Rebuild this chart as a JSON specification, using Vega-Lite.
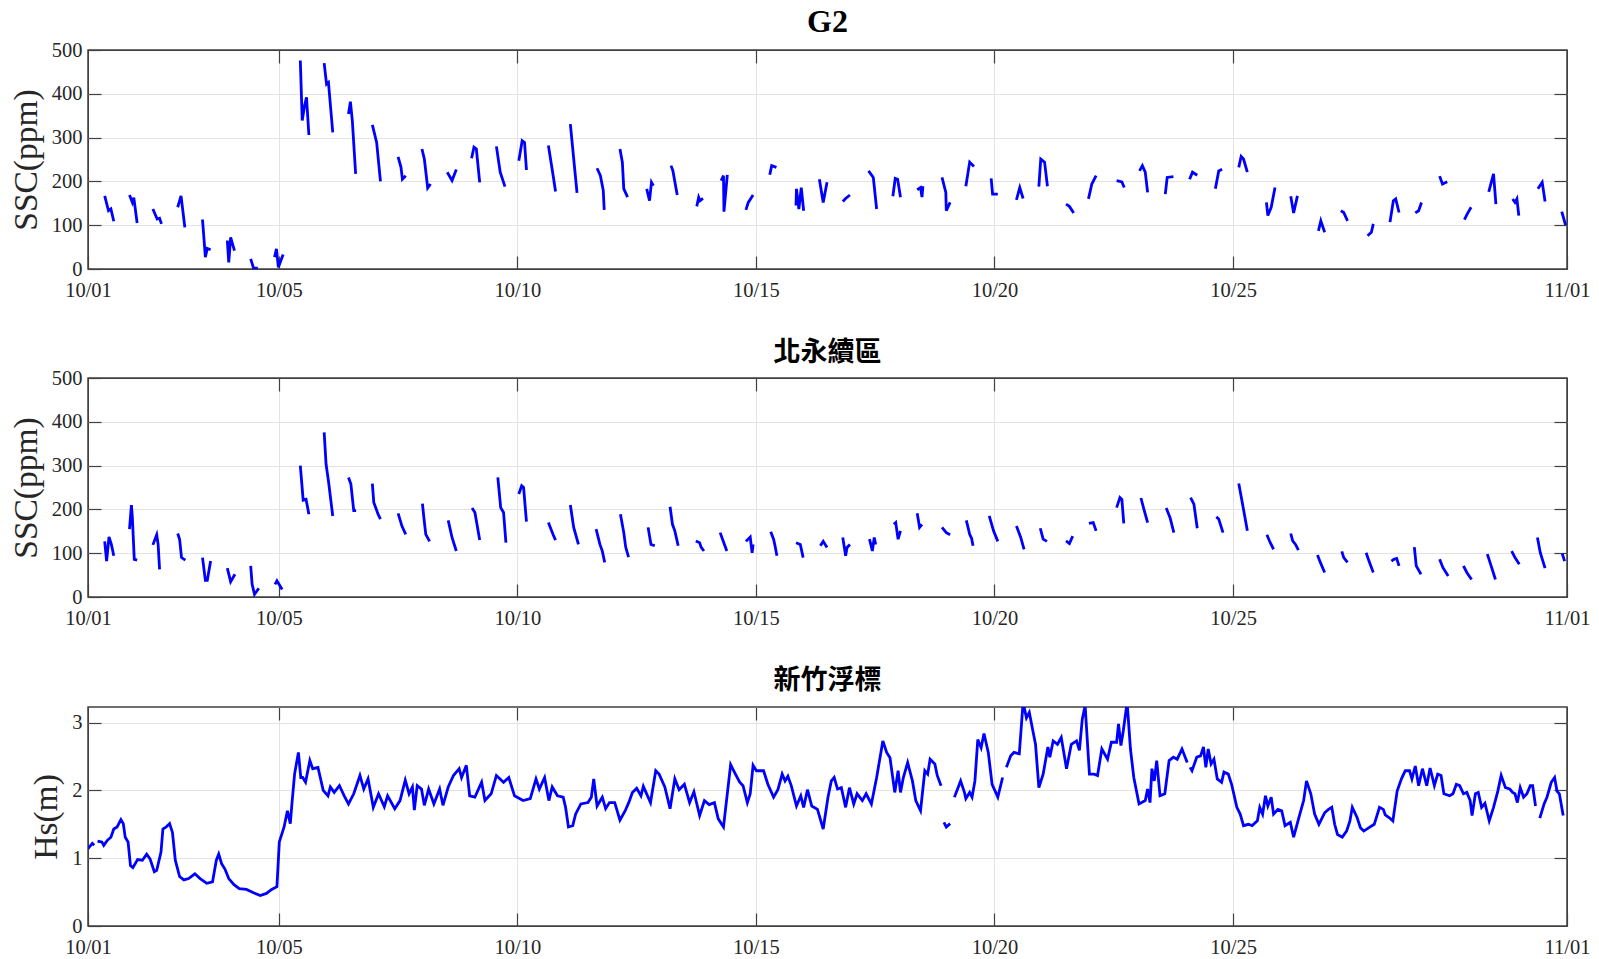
{
"$schema": "https://vega.github.io/schema/vega-lite/v6.json",
"background": "white",
"padding": {"left": 8, "top": 5, "right": 5, "bottom": 5},
"spacing": 36,
"config": {
  "view": {"stroke": "#404040", "strokeWidth": 1.5},
  "font": "Liberation Serif",
  "axis": {"labelFont": "Liberation Serif", "labelFontSize": 20.5, "labelColor": "#262626", "titleFont": "Liberation Serif", "titleFontWeight": "normal", "titleColor": "#262626", "titleFontSize": 33.5, "gridWidth": 1, "domain": false, "ticks": false, "labelPadding": 19, "titlePadding": 8},
  "axisX": {"labelPadding": 24},
  "title": {"font": "Liberation Serif", "fontSize": 32, "fontWeight": "bold", "color": "#000000", "anchor": "middle", "offset": 1}
},
"datasets": {
"g2": [
{"seg":1,"day":0.35,"ssc":167},{"seg":1,"day":0.43,"ssc":133},{"seg":1,"day":0.48,"ssc":137},{"seg":1,"day":0.54,"ssc":109},
{"seg":2,"day":0.87,"ssc":169},{"seg":2,"day":0.93,"ssc":152},{"seg":2,"day":0.96,"ssc":163},{"seg":2,"day":1.03,"ssc":105},
{"seg":3,"day":1.36,"ssc":137},{"seg":3,"day":1.45,"ssc":114},{"seg":3,"day":1.50,"ssc":116},{"seg":3,"day":1.54,"ssc":103},
{"seg":4,"day":1.88,"ssc":141},{"seg":4,"day":1.95,"ssc":167},{"seg":4,"day":2.03,"ssc":95},
{"seg":5,"day":2.40,"ssc":113},{"seg":5,"day":2.46,"ssc":27},{"seg":5,"day":2.50,"ssc":47},{"seg":5,"day":2.57,"ssc":44},
{"seg":6,"day":2.92,"ssc":65},{"seg":6,"day":2.95,"ssc":15},{"seg":6,"day":2.99,"ssc":72},{"seg":6,"day":3.07,"ssc":42},
{"seg":7,"day":3.41,"ssc":23},{"seg":7,"day":3.47,"ssc":2},{"seg":7,"day":3.56,"ssc":2},
{"seg":8,"day":3.91,"ssc":27},{"seg":8,"day":3.95,"ssc":46},{"seg":8,"day":3.99,"ssc":4},{"seg":8,"day":4.09,"ssc":33},
{"seg":9,"day":4.45,"ssc":476},{"seg":9,"day":4.49,"ssc":339},{"seg":9,"day":4.54,"ssc":373},{"seg":9,"day":4.58,"ssc":392},{"seg":9,"day":4.63,"ssc":306},
{"seg":10,"day":4.95,"ssc":470},{"seg":10,"day":5.00,"ssc":422},{"seg":10,"day":5.04,"ssc":426},{"seg":10,"day":5.13,"ssc":312},
{"seg":11,"day":5.46,"ssc":354},{"seg":11,"day":5.50,"ssc":382},{"seg":11,"day":5.54,"ssc":339},{"seg":11,"day":5.61,"ssc":217},
{"seg":12,"day":5.96,"ssc":329},{"seg":12,"day":6.05,"ssc":289},{"seg":12,"day":6.13,"ssc":200},
{"seg":13,"day":6.50,"ssc":256},{"seg":13,"day":6.56,"ssc":232},{"seg":13,"day":6.59,"ssc":205},{"seg":13,"day":6.66,"ssc":213},
{"seg":14,"day":7.00,"ssc":274},{"seg":14,"day":7.05,"ssc":251},{"seg":14,"day":7.12,"ssc":185},{"seg":14,"day":7.18,"ssc":194},
{"seg":15,"day":7.53,"ssc":221},{"seg":15,"day":7.63,"ssc":202},{"seg":15,"day":7.72,"ssc":227},
{"seg":16,"day":8.04,"ssc":253},{"seg":16,"day":8.09,"ssc":278},{"seg":16,"day":8.14,"ssc":274},{"seg":16,"day":8.21,"ssc":198},
{"seg":17,"day":8.56,"ssc":280},{"seg":17,"day":8.64,"ssc":221},{"seg":17,"day":8.74,"ssc":188},
{"seg":18,"day":9.03,"ssc":247},{"seg":18,"day":9.10,"ssc":293},{"seg":18,"day":9.15,"ssc":289},{"seg":18,"day":9.19,"ssc":226},
{"seg":19,"day":9.65,"ssc":282},{"seg":19,"day":9.75,"ssc":213},{"seg":19,"day":9.80,"ssc":177},
{"seg":20,"day":10.11,"ssc":331},{"seg":20,"day":10.25,"ssc":174},
{"seg":21,"day":10.67,"ssc":230},{"seg":21,"day":10.74,"ssc":213},{"seg":21,"day":10.80,"ssc":179},{"seg":21,"day":10.82,"ssc":135},
{"seg":22,"day":11.15,"ssc":274},{"seg":22,"day":11.20,"ssc":244},{"seg":22,"day":11.23,"ssc":183},{"seg":22,"day":11.31,"ssc":164},
{"seg":23,"day":11.71,"ssc":183},{"seg":23,"day":11.77,"ssc":156},{"seg":23,"day":11.81,"ssc":198},{"seg":23,"day":11.85,"ssc":190},
{"seg":24,"day":12.22,"ssc":236},{"seg":24,"day":12.26,"ssc":224},{"seg":24,"day":12.35,"ssc":169},
{"seg":25,"day":12.76,"ssc":143},{"seg":25,"day":12.80,"ssc":164},{"seg":25,"day":12.83,"ssc":156},{"seg":25,"day":12.89,"ssc":161},
{"seg":26,"day":13.27,"ssc":202},{"seg":26,"day":13.32,"ssc":213},{"seg":26,"day":13.33,"ssc":131},{"seg":26,"day":13.40,"ssc":215},
{"seg":27,"day":13.79,"ssc":135},{"seg":27,"day":13.84,"ssc":152},{"seg":27,"day":13.94,"ssc":169},
{"seg":28,"day":14.29,"ssc":215},{"seg":28,"day":14.33,"ssc":236},{"seg":28,"day":14.43,"ssc":232},
{"seg":29,"day":14.84,"ssc":145},{"seg":29,"day":14.85,"ssc":183},{"seg":29,"day":14.90,"ssc":137},{"seg":29,"day":14.95,"ssc":186},{"seg":29,"day":15.00,"ssc":133},
{"seg":30,"day":15.33,"ssc":205},{"seg":30,"day":15.41,"ssc":152},{"seg":30,"day":15.49,"ssc":198},
{"seg":31,"day":15.82,"ssc":154},{"seg":31,"day":15.88,"ssc":161},{"seg":31,"day":15.97,"ssc":169},
{"seg":32,"day":16.36,"ssc":224},{"seg":32,"day":16.46,"ssc":209},{"seg":32,"day":16.53,"ssc":137},
{"seg":33,"day":16.87,"ssc":166},{"seg":33,"day":16.92,"ssc":207},{"seg":33,"day":16.97,"ssc":205},{"seg":33,"day":17.03,"ssc":164},
{"seg":34,"day":17.38,"ssc":181},{"seg":34,"day":17.45,"ssc":186},{"seg":34,"day":17.48,"ssc":164},{"seg":34,"day":17.50,"ssc":189},
{"seg":35,"day":17.90,"ssc":209},{"seg":35,"day":17.98,"ssc":175},{"seg":35,"day":17.99,"ssc":133},{"seg":35,"day":18.07,"ssc":152},
{"seg":36,"day":18.40,"ssc":189},{"seg":36,"day":18.48,"ssc":244},{"seg":36,"day":18.57,"ssc":234},
{"seg":37,"day":18.93,"ssc":207},{"seg":37,"day":18.96,"ssc":171},{"seg":37,"day":19.07,"ssc":171},
{"seg":38,"day":19.46,"ssc":158},{"seg":38,"day":19.53,"ssc":186},{"seg":38,"day":19.60,"ssc":161},
{"seg":39,"day":19.93,"ssc":188},{"seg":39,"day":19.97,"ssc":251},{"seg":39,"day":20.05,"ssc":244},{"seg":39,"day":20.11,"ssc":189},
{"seg":40,"day":20.50,"ssc":148},{"seg":40,"day":20.57,"ssc":143},{"seg":40,"day":20.66,"ssc":128},
{"seg":41,"day":20.97,"ssc":160},{"seg":41,"day":21.04,"ssc":194},{"seg":41,"day":21.13,"ssc":213},
{"seg":42,"day":21.56,"ssc":202},{"seg":42,"day":21.67,"ssc":199},{"seg":42,"day":21.72,"ssc":186},
{"seg":43,"day":22.04,"ssc":224},{"seg":43,"day":22.10,"ssc":236},{"seg":43,"day":22.16,"ssc":221},{"seg":43,"day":22.21,"ssc":175},
{"seg":44,"day":22.58,"ssc":171},{"seg":44,"day":22.62,"ssc":209},{"seg":44,"day":22.75,"ssc":211},
{"seg":45,"day":23.09,"ssc":205},{"seg":45,"day":23.15,"ssc":221},{"seg":45,"day":23.25,"ssc":214},
{"seg":46,"day":23.63,"ssc":183},{"seg":46,"day":23.70,"ssc":224},{"seg":46,"day":23.77,"ssc":228},
{"seg":47,"day":24.12,"ssc":232},{"seg":47,"day":24.17,"ssc":257},{"seg":47,"day":24.22,"ssc":251},{"seg":47,"day":24.30,"ssc":221},
{"seg":48,"day":24.70,"ssc":152},{"seg":48,"day":24.73,"ssc":122},{"seg":48,"day":24.80,"ssc":141},{"seg":48,"day":24.88,"ssc":186},
{"seg":49,"day":25.21,"ssc":166},{"seg":49,"day":25.27,"ssc":128},{"seg":49,"day":25.35,"ssc":167},
{"seg":50,"day":25.79,"ssc":87},{"seg":50,"day":25.84,"ssc":110},{"seg":50,"day":25.92,"ssc":84},
{"seg":51,"day":26.26,"ssc":133},{"seg":51,"day":26.32,"ssc":129},{"seg":51,"day":26.40,"ssc":110},
{"seg":52,"day":26.82,"ssc":76},{"seg":52,"day":26.90,"ssc":84},{"seg":52,"day":26.94,"ssc":103},
{"seg":53,"day":27.29,"ssc":107},{"seg":53,"day":27.36,"ssc":156},{"seg":53,"day":27.41,"ssc":160},{"seg":53,"day":27.48,"ssc":129},
{"seg":54,"day":27.82,"ssc":128},{"seg":54,"day":27.89,"ssc":133},{"seg":54,"day":27.95,"ssc":152},
{"seg":55,"day":28.33,"ssc":212},{"seg":55,"day":28.39,"ssc":194},{"seg":55,"day":28.49,"ssc":199},
{"seg":56,"day":28.85,"ssc":113},{"seg":56,"day":28.91,"ssc":126},{"seg":56,"day":28.99,"ssc":141},
{"seg":57,"day":29.36,"ssc":176},{"seg":57,"day":29.46,"ssc":217},{"seg":57,"day":29.51,"ssc":148},
{"seg":58,"day":29.86,"ssc":160},{"seg":58,"day":29.91,"ssc":152},{"seg":58,"day":29.95,"ssc":160},{"seg":58,"day":29.99,"ssc":122},
{"seg":59,"day":30.39,"ssc":183},{"seg":59,"day":30.48,"ssc":198},{"seg":59,"day":30.54,"ssc":154},
{"seg":60,"day":30.89,"ssc":131},{"seg":60,"day":30.97,"ssc":100}
],
"bei": [
{"seg":1,"day":0.35,"ssc":127},{"seg":1,"day":0.39,"ssc":82},{"seg":1,"day":0.44,"ssc":137},{"seg":1,"day":0.49,"ssc":120},{"seg":1,"day":0.54,"ssc":94},
{"seg":2,"day":0.87,"ssc":155},{"seg":2,"day":0.91,"ssc":210},{"seg":2,"day":0.93,"ssc":181},{"seg":2,"day":0.97,"ssc":86},{"seg":2,"day":1.03,"ssc":84},
{"seg":3,"day":1.36,"ssc":119},{"seg":3,"day":1.44,"ssc":142},{"seg":3,"day":1.47,"ssc":120},{"seg":3,"day":1.50,"ssc":63},
{"seg":4,"day":1.88,"ssc":145},{"seg":4,"day":1.92,"ssc":132},{"seg":4,"day":1.96,"ssc":90},{"seg":4,"day":2.04,"ssc":84},
{"seg":5,"day":2.40,"ssc":90},{"seg":5,"day":2.46,"ssc":38},{"seg":5,"day":2.50,"ssc":38},{"seg":5,"day":2.57,"ssc":82},
{"seg":6,"day":2.92,"ssc":66},{"seg":6,"day":2.99,"ssc":35},{"seg":6,"day":3.08,"ssc":52},
{"seg":7,"day":3.41,"ssc":71},{"seg":7,"day":3.44,"ssc":29},{"seg":7,"day":3.49,"ssc":6},{"seg":7,"day":3.58,"ssc":20},
{"seg":8,"day":3.92,"ssc":29},{"seg":8,"day":3.96,"ssc":37},{"seg":8,"day":4.07,"ssc":17},
{"seg":9,"day":4.45,"ssc":300},{"seg":9,"day":4.51,"ssc":221},{"seg":9,"day":4.57,"ssc":223},{"seg":9,"day":4.63,"ssc":189},
{"seg":10,"day":4.95,"ssc":376},{"seg":10,"day":4.99,"ssc":303},{"seg":10,"day":5.04,"ssc":265},{"seg":10,"day":5.13,"ssc":185},
{"seg":11,"day":5.46,"ssc":273},{"seg":11,"day":5.51,"ssc":258},{"seg":11,"day":5.57,"ssc":197},{"seg":11,"day":5.62,"ssc":197},
{"seg":12,"day":5.96,"ssc":259},{"seg":12,"day":5.99,"ssc":216},{"seg":12,"day":6.08,"ssc":189},{"seg":12,"day":6.13,"ssc":178},
{"seg":13,"day":6.50,"ssc":191},{"seg":13,"day":6.58,"ssc":162},{"seg":13,"day":6.66,"ssc":143},
{"seg":14,"day":7.01,"ssc":213},{"seg":14,"day":7.04,"ssc":181},{"seg":14,"day":7.08,"ssc":143},{"seg":14,"day":7.16,"ssc":127},
{"seg":15,"day":7.55,"ssc":175},{"seg":15,"day":7.63,"ssc":136},{"seg":15,"day":7.72,"ssc":105},
{"seg":16,"day":8.05,"ssc":203},{"seg":16,"day":8.11,"ssc":193},{"seg":16,"day":8.21,"ssc":130},
{"seg":17,"day":8.59,"ssc":273},{"seg":17,"day":8.65,"ssc":204},{"seg":17,"day":8.71,"ssc":193},{"seg":17,"day":8.76,"ssc":124},
{"seg":18,"day":9.03,"ssc":235},{"seg":18,"day":9.09,"ssc":254},{"seg":18,"day":9.13,"ssc":250},{"seg":18,"day":9.19,"ssc":172},
{"seg":19,"day":9.65,"ssc":170},{"seg":19,"day":9.75,"ssc":142},{"seg":19,"day":9.80,"ssc":130},
{"seg":20,"day":10.11,"ssc":210},{"seg":20,"day":10.18,"ssc":159},{"seg":20,"day":10.28,"ssc":120},
{"seg":21,"day":10.65,"ssc":155},{"seg":21,"day":10.73,"ssc":120},{"seg":21,"day":10.78,"ssc":105},{"seg":21,"day":10.83,"ssc":79},
{"seg":22,"day":11.16,"ssc":189},{"seg":22,"day":11.23,"ssc":147},{"seg":22,"day":11.27,"ssc":114},{"seg":22,"day":11.33,"ssc":91},
{"seg":23,"day":11.74,"ssc":159},{"seg":23,"day":11.77,"ssc":139},{"seg":23,"day":11.80,"ssc":120},{"seg":23,"day":11.88,"ssc":117},
{"seg":24,"day":12.20,"ssc":206},{"seg":24,"day":12.25,"ssc":166},{"seg":24,"day":12.30,"ssc":151},{"seg":24,"day":12.37,"ssc":117},
{"seg":25,"day":12.74,"ssc":128},{"seg":25,"day":12.82,"ssc":124},{"seg":25,"day":12.85,"ssc":114},{"seg":25,"day":12.91,"ssc":105},
{"seg":26,"day":13.25,"ssc":147},{"seg":26,"day":13.30,"ssc":132},{"seg":26,"day":13.39,"ssc":105},
{"seg":27,"day":13.79,"ssc":127},{"seg":27,"day":13.88,"ssc":137},{"seg":27,"day":13.92,"ssc":101},{"seg":27,"day":13.94,"ssc":120},
{"seg":28,"day":14.31,"ssc":149},{"seg":28,"day":14.37,"ssc":132},{"seg":28,"day":14.40,"ssc":117},{"seg":28,"day":14.44,"ssc":94},
{"seg":29,"day":14.84,"ssc":124},{"seg":29,"day":14.93,"ssc":120},{"seg":29,"day":14.99,"ssc":90},
{"seg":30,"day":15.35,"ssc":117},{"seg":30,"day":15.41,"ssc":127},{"seg":30,"day":15.49,"ssc":113},
{"seg":31,"day":15.82,"ssc":136},{"seg":31,"day":15.88,"ssc":94},{"seg":31,"day":15.91,"ssc":113},{"seg":31,"day":15.97,"ssc":120},
{"seg":32,"day":16.38,"ssc":132},{"seg":32,"day":16.44,"ssc":105},{"seg":32,"day":16.48,"ssc":136},{"seg":32,"day":16.51,"ssc":120},
{"seg":33,"day":16.89,"ssc":166},{"seg":33,"day":16.93,"ssc":170},{"seg":33,"day":16.98,"ssc":132},{"seg":33,"day":17.03,"ssc":151},
{"seg":34,"day":17.38,"ssc":191},{"seg":34,"day":17.43,"ssc":159},{"seg":34,"day":17.48,"ssc":166},
{"seg":35,"day":17.90,"ssc":159},{"seg":35,"day":17.99,"ssc":147},{"seg":35,"day":18.07,"ssc":142},
{"seg":36,"day":18.41,"ssc":175},{"seg":36,"day":18.48,"ssc":143},{"seg":36,"day":18.52,"ssc":134},{"seg":36,"day":18.55,"ssc":117},
{"seg":37,"day":18.89,"ssc":185},{"seg":37,"day":18.98,"ssc":151},{"seg":37,"day":19.07,"ssc":127},
{"seg":38,"day":19.46,"ssc":162},{"seg":38,"day":19.55,"ssc":136},{"seg":38,"day":19.62,"ssc":109},
{"seg":39,"day":19.96,"ssc":157},{"seg":39,"day":20.02,"ssc":132},{"seg":39,"day":20.10,"ssc":127},
{"seg":40,"day":20.50,"ssc":128},{"seg":40,"day":20.57,"ssc":122},{"seg":40,"day":20.64,"ssc":139},
{"seg":41,"day":20.98,"ssc":168},{"seg":41,"day":21.07,"ssc":170},{"seg":41,"day":21.13,"ssc":151},
{"seg":42,"day":21.56,"ssc":204},{"seg":42,"day":21.63,"ssc":227},{"seg":42,"day":21.67,"ssc":223},{"seg":42,"day":21.71,"ssc":168},
{"seg":43,"day":22.07,"ssc":226},{"seg":43,"day":22.14,"ssc":197},{"seg":43,"day":22.21,"ssc":170},
{"seg":44,"day":22.60,"ssc":203},{"seg":44,"day":22.68,"ssc":181},{"seg":44,"day":22.76,"ssc":147},
{"seg":45,"day":23.11,"ssc":227},{"seg":45,"day":23.18,"ssc":212},{"seg":45,"day":23.25,"ssc":157},
{"seg":46,"day":23.65,"ssc":183},{"seg":46,"day":23.70,"ssc":178},{"seg":46,"day":23.79,"ssc":147},
{"seg":47,"day":24.12,"ssc":259},{"seg":47,"day":24.20,"ssc":212},{"seg":47,"day":24.30,"ssc":151},
{"seg":48,"day":24.71,"ssc":142},{"seg":48,"day":24.78,"ssc":124},{"seg":48,"day":24.85,"ssc":109},
{"seg":49,"day":25.21,"ssc":145},{"seg":49,"day":25.25,"ssc":128},{"seg":49,"day":25.31,"ssc":120},{"seg":49,"day":25.37,"ssc":107},
{"seg":50,"day":25.77,"ssc":96},{"seg":50,"day":25.83,"ssc":79},{"seg":50,"day":25.92,"ssc":56},
{"seg":51,"day":26.28,"ssc":104},{"seg":51,"day":26.32,"ssc":90},{"seg":51,"day":26.40,"ssc":79},
{"seg":52,"day":26.79,"ssc":101},{"seg":52,"day":26.85,"ssc":82},{"seg":52,"day":26.94,"ssc":56},
{"seg":53,"day":27.32,"ssc":82},{"seg":53,"day":27.37,"ssc":86},{"seg":53,"day":27.43,"ssc":88},{"seg":53,"day":27.48,"ssc":71},
{"seg":54,"day":27.80,"ssc":114},{"seg":54,"day":27.84,"ssc":71},{"seg":54,"day":27.94,"ssc":52},
{"seg":55,"day":28.33,"ssc":86},{"seg":55,"day":28.40,"ssc":67},{"seg":55,"day":28.51,"ssc":48},
{"seg":56,"day":28.83,"ssc":71},{"seg":56,"day":28.90,"ssc":56},{"seg":56,"day":29.00,"ssc":40},
{"seg":57,"day":29.33,"ssc":98},{"seg":57,"day":29.41,"ssc":71},{"seg":57,"day":29.50,"ssc":40},
{"seg":58,"day":29.84,"ssc":105},{"seg":58,"day":29.91,"ssc":90},{"seg":58,"day":30.00,"ssc":75},
{"seg":59,"day":30.38,"ssc":136},{"seg":59,"day":30.44,"ssc":101},{"seg":59,"day":30.54,"ssc":66},
{"seg":60,"day":30.90,"ssc":99},{"seg":60,"day":30.95,"ssc":82}
],
"hs": [
{"seg":1,"day":0.00,"hs":1.14},{"seg":1,"day":0.09,"hs":1.22},{"seg":1,"day":0.13,"hs":1.19},
{"seg":2,"day":0.20,"hs":1.25},{"seg":2,"day":0.29,"hs":1.24},{"seg":2,"day":0.33,"hs":1.19},{"seg":2,"day":0.40,"hs":1.26},{"seg":2,"day":0.48,"hs":1.31},{"seg":2,"day":0.54,"hs":1.43},{"seg":2,"day":0.61,"hs":1.46},{"seg":2,"day":0.69,"hs":1.57},{"seg":2,"day":0.74,"hs":1.51},{"seg":2,"day":0.78,"hs":1.31},{"seg":2,"day":0.84,"hs":1.24},{"seg":2,"day":0.89,"hs":0.89},{"seg":2,"day":0.94,"hs":0.86},{"seg":2,"day":1.04,"hs":0.98},{"seg":2,"day":1.14,"hs":0.97},{"seg":2,"day":1.23,"hs":1.06},{"seg":2,"day":1.30,"hs":0.99},{"seg":2,"day":1.39,"hs":0.80},{"seg":2,"day":1.44,"hs":0.82},{"seg":2,"day":1.53,"hs":1.09},{"seg":2,"day":1.57,"hs":1.43},{"seg":2,"day":1.64,"hs":1.46},{"seg":2,"day":1.71,"hs":1.51},{"seg":2,"day":1.77,"hs":1.38},{"seg":2,"day":1.83,"hs":0.97},{"seg":2,"day":1.92,"hs":0.73},{"seg":2,"day":2.01,"hs":0.68},{"seg":2,"day":2.11,"hs":0.70},{"seg":2,"day":2.24,"hs":0.77},{"seg":2,"day":2.35,"hs":0.70},{"seg":2,"day":2.49,"hs":0.63},{"seg":2,"day":2.61,"hs":0.65},{"seg":2,"day":2.69,"hs":0.97},{"seg":2,"day":2.74,"hs":1.06},{"seg":2,"day":2.80,"hs":0.92},{"seg":2,"day":2.87,"hs":0.84},{"seg":2,"day":2.95,"hs":0.70},{"seg":2,"day":3.06,"hs":0.61},{"seg":2,"day":3.17,"hs":0.55},{"seg":2,"day":3.32,"hs":0.54},{"seg":2,"day":3.47,"hs":0.49},{"seg":2,"day":3.61,"hs":0.45},{"seg":2,"day":3.74,"hs":0.48},{"seg":2,"day":3.85,"hs":0.54},{"seg":2,"day":3.96,"hs":0.58},{"seg":2,"day":4.01,"hs":1.24},{"seg":2,"day":4.11,"hs":1.46},{"seg":2,"day":4.18,"hs":1.70},{"seg":2,"day":4.24,"hs":1.51},{"seg":2,"day":4.28,"hs":1.85},{"seg":2,"day":4.33,"hs":2.24},{"seg":2,"day":4.41,"hs":2.56},{"seg":2,"day":4.46,"hs":2.19},{"seg":2,"day":4.50,"hs":2.19},{"seg":2,"day":4.56,"hs":2.12},{"seg":2,"day":4.65,"hs":2.44},{"seg":2,"day":4.71,"hs":2.32},{"seg":2,"day":4.82,"hs":2.34},{"seg":2,"day":4.93,"hs":2.00},{"seg":2,"day":5.03,"hs":1.92},{"seg":2,"day":5.08,"hs":2.05},{"seg":2,"day":5.16,"hs":1.97},{"seg":2,"day":5.27,"hs":2.07},{"seg":2,"day":5.37,"hs":1.92},{"seg":2,"day":5.46,"hs":1.80},{"seg":2,"day":5.57,"hs":1.95},{"seg":2,"day":5.70,"hs":2.22},{"seg":2,"day":5.78,"hs":2.02},{"seg":2,"day":5.87,"hs":2.17},{"seg":2,"day":5.98,"hs":1.75},{"seg":2,"day":6.09,"hs":1.95},{"seg":2,"day":6.21,"hs":1.76},{"seg":2,"day":6.28,"hs":1.92},{"seg":2,"day":6.43,"hs":1.73},{"seg":2,"day":6.54,"hs":1.85},{"seg":2,"day":6.65,"hs":2.15},{"seg":2,"day":6.73,"hs":1.95},{"seg":2,"day":6.80,"hs":2.05},{"seg":2,"day":6.84,"hs":1.71},{"seg":2,"day":6.90,"hs":2.07},{"seg":2,"day":6.99,"hs":2.02},{"seg":2,"day":7.05,"hs":1.78},{"seg":2,"day":7.14,"hs":2.02},{"seg":2,"day":7.25,"hs":1.80},{"seg":2,"day":7.37,"hs":2.02},{"seg":2,"day":7.44,"hs":1.78},{"seg":2,"day":7.55,"hs":2.05},{"seg":2,"day":7.66,"hs":2.22},{"seg":2,"day":7.78,"hs":2.32},{"seg":2,"day":7.83,"hs":2.19},{"seg":2,"day":7.93,"hs":2.37},{"seg":2,"day":8.00,"hs":1.92},{"seg":2,"day":8.11,"hs":1.90},{"seg":2,"day":8.25,"hs":2.12},{"seg":2,"day":8.32,"hs":1.85},{"seg":2,"day":8.45,"hs":1.95},{"seg":2,"day":8.56,"hs":2.22},{"seg":2,"day":8.71,"hs":2.12},{"seg":2,"day":8.82,"hs":2.19},{"seg":2,"day":8.94,"hs":1.92},{"seg":2,"day":9.12,"hs":1.85},{"seg":2,"day":9.27,"hs":1.88},{"seg":2,"day":9.39,"hs":2.17},{"seg":2,"day":9.46,"hs":2.02},{"seg":2,"day":9.57,"hs":2.19},{"seg":2,"day":9.66,"hs":1.85},{"seg":2,"day":9.73,"hs":2.05},{"seg":2,"day":9.84,"hs":1.92},{"seg":2,"day":9.96,"hs":1.90},{"seg":2,"day":10.01,"hs":1.75},{"seg":2,"day":10.07,"hs":1.46},{"seg":2,"day":10.16,"hs":1.48},{"seg":2,"day":10.22,"hs":1.65},{"seg":2,"day":10.33,"hs":1.80},{"seg":2,"day":10.48,"hs":1.82},{"seg":2,"day":10.55,"hs":1.90},{"seg":2,"day":10.60,"hs":2.17},{"seg":2,"day":10.67,"hs":1.77},{"seg":2,"day":10.78,"hs":1.90},{"seg":2,"day":10.85,"hs":1.73},{"seg":2,"day":10.93,"hs":1.82},{"seg":2,"day":11.04,"hs":1.82},{"seg":2,"day":11.15,"hs":1.56},{"seg":2,"day":11.26,"hs":1.70},{"seg":2,"day":11.34,"hs":1.83},{"seg":2,"day":11.41,"hs":1.97},{"seg":2,"day":11.50,"hs":2.03},{"seg":2,"day":11.59,"hs":1.92},{"seg":2,"day":11.64,"hs":2.06},{"seg":2,"day":11.79,"hs":1.82},{"seg":2,"day":11.90,"hs":2.29},{"seg":2,"day":11.97,"hs":2.24},{"seg":2,"day":12.09,"hs":2.05},{"seg":2,"day":12.20,"hs":1.73},{"seg":2,"day":12.30,"hs":2.17},{"seg":2,"day":12.39,"hs":2.01},{"seg":2,"day":12.50,"hs":2.09},{"seg":2,"day":12.61,"hs":1.82},{"seg":2,"day":12.70,"hs":1.98},{"seg":2,"day":12.82,"hs":1.63},{"seg":2,"day":12.92,"hs":1.85},{"seg":2,"day":13.02,"hs":1.79},{"seg":2,"day":13.13,"hs":1.82},{"seg":2,"day":13.21,"hs":1.58},{"seg":2,"day":13.32,"hs":1.46},{"seg":2,"day":13.47,"hs":2.38},{"seg":2,"day":13.57,"hs":2.24},{"seg":2,"day":13.66,"hs":2.12},{"seg":2,"day":13.73,"hs":2.07},{"seg":2,"day":13.82,"hs":1.82},{"seg":2,"day":13.88,"hs":1.95},{"seg":2,"day":13.94,"hs":2.37},{"seg":2,"day":14.01,"hs":2.29},{"seg":2,"day":14.16,"hs":2.29},{"seg":2,"day":14.25,"hs":2.09},{"seg":2,"day":14.37,"hs":1.90},{"seg":2,"day":14.46,"hs":2.01},{"seg":2,"day":14.55,"hs":2.24},{"seg":2,"day":14.61,"hs":2.14},{"seg":2,"day":14.67,"hs":2.21},{"seg":2,"day":14.74,"hs":2.07},{"seg":2,"day":14.85,"hs":1.77},{"seg":2,"day":14.94,"hs":1.92},{"seg":2,"day":15.00,"hs":1.75},{"seg":2,"day":15.08,"hs":2.01},{"seg":2,"day":15.17,"hs":1.77},{"seg":2,"day":15.29,"hs":1.72},{"seg":2,"day":15.41,"hs":1.43},{"seg":2,"day":15.51,"hs":1.90},{"seg":2,"day":15.58,"hs":2.14},{"seg":2,"day":15.64,"hs":2.19},{"seg":2,"day":15.71,"hs":2.02},{"seg":2,"day":15.79,"hs":2.04},{"seg":2,"day":15.88,"hs":1.75},{"seg":2,"day":15.96,"hs":2.04},{"seg":2,"day":16.05,"hs":1.80},{"seg":2,"day":16.12,"hs":1.95},{"seg":2,"day":16.23,"hs":1.85},{"seg":2,"day":16.31,"hs":1.95},{"seg":2,"day":16.42,"hs":1.80},{"seg":2,"day":16.53,"hs":2.19},{"seg":2,"day":16.66,"hs":2.73},{"seg":2,"day":16.74,"hs":2.56},{"seg":2,"day":16.81,"hs":2.48},{"seg":2,"day":16.91,"hs":1.97},{"seg":2,"day":16.98,"hs":2.29},{"seg":2,"day":17.03,"hs":1.97},{"seg":2,"day":17.09,"hs":2.19},{"seg":2,"day":17.18,"hs":2.41},{"seg":2,"day":17.28,"hs":2.14},{"seg":2,"day":17.35,"hs":1.85},{"seg":2,"day":17.45,"hs":1.70},{"seg":2,"day":17.54,"hs":2.29},{"seg":2,"day":17.60,"hs":2.24},{"seg":2,"day":17.65,"hs":2.46},{"seg":2,"day":17.75,"hs":2.39},{"seg":2,"day":17.80,"hs":2.22},{"seg":2,"day":17.88,"hs":2.07},
{"seg":3,"day":17.94,"hs":1.53},{"seg":3,"day":17.99,"hs":1.46},{"seg":3,"day":18.07,"hs":1.51},
{"seg":4,"day":18.16,"hs":1.90},{"seg":4,"day":18.22,"hs":2.01},{"seg":4,"day":18.29,"hs":2.14},{"seg":4,"day":18.37,"hs":1.97},{"seg":4,"day":18.40,"hs":1.88},{"seg":4,"day":18.48,"hs":1.97},{"seg":4,"day":18.53,"hs":1.90},{"seg":4,"day":18.59,"hs":2.14},{"seg":4,"day":18.65,"hs":2.75},{"seg":4,"day":18.72,"hs":2.63},{"seg":4,"day":18.78,"hs":2.84},{"seg":4,"day":18.87,"hs":2.56},{"seg":4,"day":18.95,"hs":2.09},{"seg":4,"day":19.07,"hs":1.90},{"seg":4,"day":19.17,"hs":2.19},
{"seg":5,"day":19.25,"hs":2.34},{"seg":5,"day":19.34,"hs":2.51},{"seg":5,"day":19.41,"hs":2.56},{"seg":5,"day":19.52,"hs":2.54},{"seg":5,"day":19.60,"hs":3.30},{"seg":5,"day":19.67,"hs":3.07},{"seg":5,"day":19.73,"hs":3.15},{"seg":5,"day":19.79,"hs":2.93},{"seg":5,"day":19.86,"hs":2.68},{"seg":5,"day":19.93,"hs":2.04},{"seg":5,"day":20.02,"hs":2.24},{"seg":5,"day":20.12,"hs":2.64},{"seg":5,"day":20.16,"hs":2.49},{"seg":5,"day":20.23,"hs":2.73},{"seg":5,"day":20.32,"hs":2.68},{"seg":5,"day":20.40,"hs":2.78},{"seg":5,"day":20.51,"hs":2.32},{"seg":5,"day":20.61,"hs":2.68},{"seg":5,"day":20.72,"hs":2.73},{"seg":5,"day":20.78,"hs":2.59},{"seg":5,"day":20.84,"hs":3.05},{"seg":5,"day":20.90,"hs":3.25},{"seg":5,"day":20.99,"hs":2.24},{"seg":5,"day":21.09,"hs":2.24},{"seg":5,"day":21.16,"hs":2.22},{"seg":5,"day":21.25,"hs":2.61},{"seg":5,"day":21.37,"hs":2.46},{"seg":5,"day":21.45,"hs":2.71},{"seg":5,"day":21.56,"hs":2.71},{"seg":5,"day":21.60,"hs":2.98},{"seg":5,"day":21.65,"hs":2.66},{"seg":5,"day":21.70,"hs":2.88},{"seg":5,"day":21.78,"hs":3.30},{"seg":5,"day":21.85,"hs":2.61},{"seg":5,"day":21.92,"hs":2.19},{"seg":5,"day":22.03,"hs":1.80},{"seg":5,"day":22.16,"hs":1.85},{"seg":5,"day":22.21,"hs":2.02},{"seg":5,"day":22.26,"hs":1.82},{"seg":5,"day":22.30,"hs":2.32},{"seg":5,"day":22.35,"hs":2.14},{"seg":5,"day":22.40,"hs":2.44},{"seg":5,"day":22.47,"hs":1.92},{"seg":5,"day":22.57,"hs":1.95},{"seg":5,"day":22.66,"hs":2.44},{"seg":5,"day":22.75,"hs":2.49},{"seg":5,"day":22.83,"hs":2.46},{"seg":5,"day":22.93,"hs":2.61},{"seg":5,"day":23.04,"hs":2.41},
{"seg":6,"day":23.10,"hs":2.34},{"seg":6,"day":23.14,"hs":2.29},{"seg":6,"day":23.24,"hs":2.49},{"seg":6,"day":23.32,"hs":2.51},{"seg":6,"day":23.38,"hs":2.64},{"seg":6,"day":23.43,"hs":2.34},{"seg":6,"day":23.48,"hs":2.61},{"seg":6,"day":23.54,"hs":2.39},{"seg":6,"day":23.60,"hs":2.46},{"seg":6,"day":23.67,"hs":2.17},{"seg":6,"day":23.76,"hs":2.12},{"seg":6,"day":23.81,"hs":2.27},{"seg":6,"day":23.90,"hs":2.24},{"seg":6,"day":23.97,"hs":2.09},{"seg":6,"day":24.08,"hs":1.75},{"seg":6,"day":24.15,"hs":1.65},{"seg":6,"day":24.22,"hs":1.48},{"seg":6,"day":24.32,"hs":1.50},{"seg":6,"day":24.40,"hs":1.48},{"seg":6,"day":24.51,"hs":1.55},{"seg":6,"day":24.56,"hs":1.75},{"seg":6,"day":24.62,"hs":1.65},{"seg":6,"day":24.68,"hs":1.92},{"seg":6,"day":24.73,"hs":1.77},{"seg":6,"day":24.80,"hs":1.90},{"seg":6,"day":24.85,"hs":1.65},{"seg":6,"day":24.94,"hs":1.72},{"seg":6,"day":25.02,"hs":1.70},{"seg":6,"day":25.09,"hs":1.48},{"seg":6,"day":25.20,"hs":1.53},{"seg":6,"day":25.27,"hs":1.31},{"seg":6,"day":25.38,"hs":1.60},{"seg":6,"day":25.48,"hs":1.85},{"seg":6,"day":25.54,"hs":2.14},{"seg":6,"day":25.63,"hs":1.95},{"seg":6,"day":25.71,"hs":1.65},{"seg":6,"day":25.80,"hs":1.50},{"seg":6,"day":25.92,"hs":1.67},{"seg":6,"day":26.00,"hs":1.72},{"seg":6,"day":26.07,"hs":1.75},{"seg":6,"day":26.13,"hs":1.50},{"seg":6,"day":26.19,"hs":1.35},{"seg":6,"day":26.29,"hs":1.31},{"seg":6,"day":26.38,"hs":1.40},{"seg":6,"day":26.45,"hs":1.55},{"seg":6,"day":26.50,"hs":1.75},{"seg":6,"day":26.60,"hs":1.60},{"seg":6,"day":26.67,"hs":1.45},{"seg":6,"day":26.74,"hs":1.40},{"seg":6,"day":26.85,"hs":1.45},{"seg":6,"day":26.96,"hs":1.50},{"seg":6,"day":27.07,"hs":1.75},{"seg":6,"day":27.15,"hs":1.72},{"seg":6,"day":27.19,"hs":1.64},{"seg":6,"day":27.27,"hs":1.60},{"seg":6,"day":27.35,"hs":1.55},{"seg":6,"day":27.44,"hs":1.99},{"seg":6,"day":27.53,"hs":2.17},{"seg":6,"day":27.61,"hs":2.29},{"seg":6,"day":27.70,"hs":2.29},{"seg":6,"day":27.75,"hs":2.17},{"seg":6,"day":27.82,"hs":2.36},{"seg":6,"day":27.89,"hs":2.07},{"seg":6,"day":27.97,"hs":2.32},{"seg":6,"day":28.06,"hs":2.07},{"seg":6,"day":28.13,"hs":2.33},{"seg":6,"day":28.22,"hs":2.07},{"seg":6,"day":28.29,"hs":2.24},{"seg":6,"day":28.36,"hs":2.22},{"seg":6,"day":28.42,"hs":1.95},{"seg":6,"day":28.54,"hs":1.92},{"seg":6,"day":28.61,"hs":1.95},{"seg":6,"day":28.68,"hs":2.09},{"seg":6,"day":28.75,"hs":2.07},{"seg":6,"day":28.83,"hs":1.95},{"seg":6,"day":28.90,"hs":1.97},{"seg":6,"day":28.97,"hs":1.85},{"seg":6,"day":29.01,"hs":1.63},{"seg":6,"day":29.08,"hs":1.95},{"seg":6,"day":29.14,"hs":1.97},{"seg":6,"day":29.21,"hs":1.75},{"seg":6,"day":29.28,"hs":1.81},{"seg":6,"day":29.37,"hs":1.55},{"seg":6,"day":29.46,"hs":1.75},{"seg":6,"day":29.55,"hs":1.99},{"seg":6,"day":29.62,"hs":2.22},{"seg":6,"day":29.71,"hs":2.04},{"seg":6,"day":29.80,"hs":2.02},{"seg":6,"day":29.86,"hs":1.97},{"seg":6,"day":29.91,"hs":1.95},{"seg":6,"day":29.96,"hs":1.82},{"seg":6,"day":30.02,"hs":2.04},{"seg":6,"day":30.09,"hs":1.90},{"seg":6,"day":30.16,"hs":1.95},{"seg":6,"day":30.23,"hs":2.07},{"seg":6,"day":30.28,"hs":2.07},{"seg":6,"day":30.34,"hs":1.77},
{"seg":7,"day":30.43,"hs":1.59},{"seg":7,"day":30.52,"hs":1.80},{"seg":7,"day":30.58,"hs":1.90},{"seg":7,"day":30.67,"hs":2.12},{"seg":7,"day":30.74,"hs":2.19},{"seg":7,"day":30.79,"hs":1.99},{"seg":7,"day":30.84,"hs":1.95},{"seg":7,"day":30.92,"hs":1.63}
]
},
"vconcat": [
{
  "width": 1479, "height": 219,
  "title": {"text": "G2"},
  "resolve": {"axis": {"x": "independent", "y": "independent"}},
  "layer": [
    {"data": {"name": "g2"}, "mark": {"type": "line", "color": "#0000ff", "strokeWidth": 2.8, "clip": true},
     "encoding": {
       "x": {"field": "day", "type": "quantitative", "scale": {"domain": [0, 31], "nice": false, "zero": false}, "axis": {"values": [0, 4, 9, 14, 19, 24, 31], "labelExpr": "timeFormat(datetime(2023, 9, 1 + datum.value), '%m/%d')", "title": null, "labelFlush": false, "labelFont": "Liberation Serif", "ticks": true, "tickSize": -13, "tickColor": "#404040", "tickWidth": 1.2, "gridColor": {"condition": {"test": "datum.value == 0 || datum.value == 31", "value": "#404040"}, "value": "#e3e3e3"}}},
       "y": {"field": "ssc", "type": "quantitative", "scale": {"domain": [0, 500], "nice": false}, "axis": {"values": [0, 100, 200, 300, 400, 500], "title": "SSC(ppm)", "labelFont": "Liberation Serif", "ticks": true, "tickSize": -13, "tickColor": "#404040", "tickWidth": 1.2, "gridColor": {"condition": {"test": "datum.value == 0 || datum.value == 500", "value": "#404040"}, "value": "#e3e3e3"}}},
       "detail": {"field": "seg", "type": "nominal"}}},
    {"mark": {"type": "rule", "color": "#ff0000", "strokeWidth": 2.8},
     "encoding": {
       "x": {"datum": 0, "type": "quantitative", "axis": {"orient": "top", "values": [4, 9, 14, 19, 24], "labels": false, "grid": false, "ticks": true, "tickSize": -13, "tickColor": "#404040", "tickWidth": 1.2, "title": null}},
       "x2": {"datum": 31},
       "y": {"datum": 100, "type": "quantitative", "axis": {"orient": "right", "values": [100, 200, 300, 400], "labels": false, "grid": false, "ticks": true, "tickSize": -13, "tickColor": "#404040", "tickWidth": 1.2, "title": null}}}}
  ]
},
{
  "width": 1479, "height": 219,
  "title": {"text": "北永續區", "font": "Noto Sans CJK TC", "fontSize": 27},
  "resolve": {"axis": {"x": "independent", "y": "independent"}},
  "layer": [
    {"data": {"name": "bei"}, "mark": {"type": "line", "color": "#0000ff", "strokeWidth": 2.8, "clip": true},
     "encoding": {
       "x": {"field": "day", "type": "quantitative", "scale": {"domain": [0, 31], "nice": false, "zero": false}, "axis": {"values": [0, 4, 9, 14, 19, 24, 31], "labelExpr": "timeFormat(datetime(2023, 9, 1 + datum.value), '%m/%d')", "title": null, "labelFlush": false, "labelFont": "Liberation Serif", "ticks": true, "tickSize": -13, "tickColor": "#404040", "tickWidth": 1.2, "gridColor": {"condition": {"test": "datum.value == 0 || datum.value == 31", "value": "#404040"}, "value": "#e3e3e3"}}},
       "y": {"field": "ssc", "type": "quantitative", "scale": {"domain": [0, 500], "nice": false}, "axis": {"values": [0, 100, 200, 300, 400, 500], "title": "SSC(ppm)", "labelFont": "Liberation Serif", "ticks": true, "tickSize": -13, "tickColor": "#404040", "tickWidth": 1.2, "gridColor": {"condition": {"test": "datum.value == 0 || datum.value == 500", "value": "#404040"}, "value": "#e3e3e3"}}},
       "detail": {"field": "seg", "type": "nominal"}}},
    {"mark": {"type": "rule", "color": "#ff0000", "strokeWidth": 2.8},
     "encoding": {
       "x": {"datum": 0, "type": "quantitative", "axis": {"orient": "top", "values": [4, 9, 14, 19, 24], "labels": false, "grid": false, "ticks": true, "tickSize": -13, "tickColor": "#404040", "tickWidth": 1.2, "title": null}},
       "x2": {"datum": 31},
       "y": {"datum": 100, "type": "quantitative", "axis": {"orient": "right", "values": [100, 200, 300, 400], "labels": false, "grid": false, "ticks": true, "tickSize": -13, "tickColor": "#404040", "tickWidth": 1.2, "title": null}}}}
  ]
},
{
  "width": 1479, "height": 219,
  "title": {"text": "新竹浮標", "font": "Noto Sans CJK TC", "fontSize": 27, "offset": 11},
  "resolve": {"axis": {"x": "independent", "y": "independent"}},
  "layer": [
    {"data": {"name": "hs"}, "mark": {"type": "line", "color": "#0000ff", "strokeWidth": 2.8, "clip": true},
     "encoding": {
       "x": {"field": "day", "type": "quantitative", "scale": {"domain": [0, 31], "nice": false, "zero": false}, "axis": {"values": [0, 4, 9, 14, 19, 24, 31], "labelExpr": "timeFormat(datetime(2023, 9, 1 + datum.value), '%m/%d')", "title": null, "labelFlush": false, "labelFont": "Liberation Serif", "ticks": true, "tickSize": -13, "tickColor": "#404040", "tickWidth": 1.2, "gridColor": {"condition": {"test": "datum.value == 0 || datum.value == 31", "value": "#404040"}, "value": "#e3e3e3"}}},
       "y": {"field": "hs", "type": "quantitative", "scale": {"domain": [0, 3.23], "nice": false}, "axis": {"values": [0, 1, 2, 3], "title": "Hs(m)", "labelFont": "Liberation Serif", "ticks": true, "tickSize": -13, "tickColor": "#404040", "tickWidth": 1.2, "gridColor": {"condition": {"test": "datum.value == 0", "value": "#404040"}, "value": "#e3e3e3"}}},
       "detail": {"field": "seg", "type": "nominal"}}},
    {"mark": {"type": "rule", "color": "#404040", "strokeWidth": 1.5},
     "encoding": {
       "x": {"datum": 0, "type": "quantitative", "axis": {"orient": "top", "values": [4, 9, 14, 19, 24], "labels": false, "grid": false, "ticks": true, "tickSize": -13, "tickColor": "#404040", "tickWidth": 1.2, "title": null}},
       "x2": {"datum": 31},
       "y": {"datum": 3.23, "type": "quantitative", "axis": {"orient": "right", "values": [1, 2, 3], "labels": false, "grid": false, "ticks": true, "tickSize": -13, "tickColor": "#404040", "tickWidth": 1.2, "title": null}}}}
  ]
}
]
}
